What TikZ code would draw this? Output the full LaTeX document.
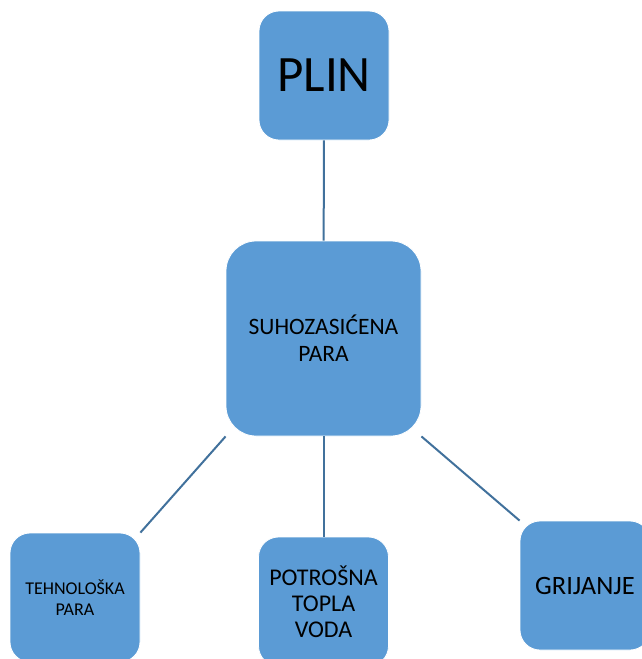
\documentclass[tikz,border=0pt]{standalone}
\usepackage{fontspec}
\setmainfont{Carlito}
\usetikzlibrary{positioning}

\definecolor{boxblue}{HTML}{5B9BD5}
\definecolor{lineblue}{HTML}{41719C}

\begin{document}
\begin{tikzpicture}[
				x=1pt, y=-1pt,
				link/.style={draw=lineblue, line width=2pt},
				block/.style={fill=boxblue, draw=white, line width=0.8pt, rounded corners=20pt,
					minimum width=130pt, minimum height=129pt, inner sep=0pt, align=center},
				bigblock/.style={block, rounded corners=30pt, minimum width=195pt, minimum height=195pt},
			]
				\useasboundingbox (0,0) rectangle (642,659);
				\clip (0,0) rectangle (642,659);

				\node[block, font=\fontsize{51}{60}\selectfont] (plin) at (324,75.5) {PLIN};
				\node[bigblock, font=\fontsize{23.5}{27}\selectfont] (para) at (323.5,338.5) {SUHOZASIĆENA\\PARA};
				\node[block, font=\fontsize{18}{21}\selectfont] (tehno) at (75,597.5) {TEHNOLOŠKA\\PARA};
				\node[block, font=\fontsize{24}{26}\selectfont] (voda) at (323.5,601.5) {POTROŠNA\\TOPLA\\VODA};
				\node[block, font=\fontsize{26.5}{30}\selectfont] (grijanje) at (585,585.5) {GRIJANJE};

				\draw[link] (plin) -- (para);
				\draw[link] (para.south west) -- (tehno.north east);
				\draw[link] (para) -- (voda);
				\draw[link] (para.south east) -- (grijanje.north west);
			\end{tikzpicture}
\end{document}
